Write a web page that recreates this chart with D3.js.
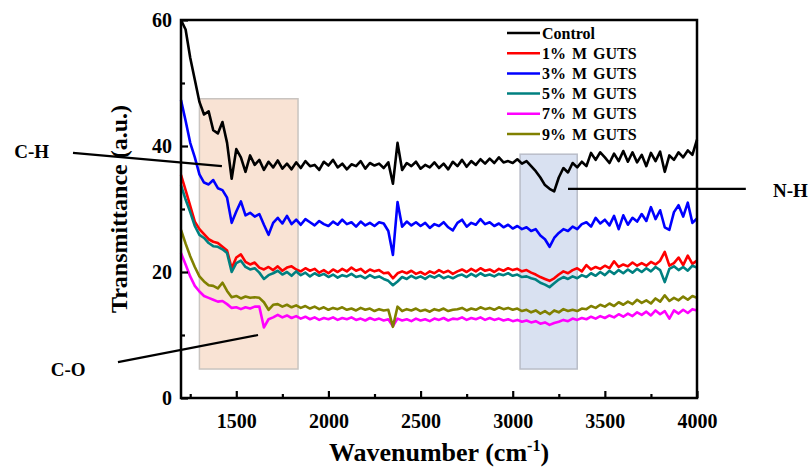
<!DOCTYPE html>
<html>
<head>
<meta charset="utf-8">
<script src="https://cdn.jsdelivr.net/npm/d3@7"></script>
<style>
  body { margin: 0; background: #fff; }
  svg text { font-family: "Liberation Serif", "Times New Roman", serif; font-weight: bold; }
</style>
</head>
<body>
<svg id="chart"></svg>
<script>
// wavenumber grid (cm-1), one reading every 25 cm-1
const wavenumbers = d3.range(1200, 4001, 25);

const control = [
  60, 58.5, 54, 50.5, 47, 45, 45.5, 42.5,
  42, 43.8, 40.5, 34.8, 39.5, 38.2, 35.9, 38.5,
  37, 37.8, 36.2, 37.5, 36.6, 37.7, 36.4, 37.2,
  36.3, 37.4, 36.5, 37.6, 36.8, 37.0, 36.2, 37.5,
  36.9, 37.8, 36.6, 37.2, 36.3, 37.1, 36.8, 37.6,
  36.4, 37.3, 36.9, 37.2, 36.5, 37.4, 34.0, 40.5,
  36.2, 37.3, 36.8, 37.5, 36.4, 37.0, 36.6, 37.4,
  36.5, 37.2, 36.3, 37.5, 36.8, 37.8, 36.7, 37.6,
  37.0, 37.9, 37.2, 38.0, 37.3, 38.2, 37.4, 37.6,
  37.3, 37.9, 37.2, 37.6, 36.8, 36.0, 35.0, 33.8,
  33.2, 32.8, 35.0, 36.5, 35.8, 37.3, 36.6, 37.5,
  36.8, 38.9, 37.8, 39.0, 38.2, 37.3, 38.8, 37.6,
  39.2, 37.5, 39.0, 37.4, 38.6, 36.8, 38.9, 37.6,
  39.1, 35.9, 38.5, 37.8, 39.0, 38.2, 39.3, 38.6,
  41.0
];

const mGuts1 = [
  35.4, 33.0, 30.5, 28.0, 26.8, 26.0, 25.2, 24.8,
  24.6, 24.0, 23.4, 20.6, 22.3, 22.8, 21.6, 21.2,
  21.5, 20.7, 20.4, 20.8, 20.3, 20.9, 20.2, 20.7,
  20.9, 20.4, 20.1, 20.6, 20.2, 20.5, 19.9, 20.3,
  19.8, 20.4, 20.0, 20.5, 20.1, 20.7, 20.2, 20.5,
  19.9, 20.4, 20.1, 20.3, 19.8, 19.9, 19.0, 19.8,
  20.1, 19.8, 20.2, 19.7, 20.0, 19.6, 20.1, 19.8,
  20.3, 19.9, 20.2, 19.7, 20.1, 20.4, 20.0, 20.5,
  20.1, 20.6, 20.2, 20.4, 20.0, 20.5, 20.2, 20.6,
  20.3, 20.5, 20.1, 20.3, 19.9, 19.6, 19.2, 18.9,
  18.6, 19.0, 19.6, 20.1, 19.8, 20.3, 20.6, 20.1,
  21.1, 20.4, 20.8, 20.5, 21.0, 20.6, 21.7, 20.8,
  21.2, 20.9, 21.5, 21.0, 21.4, 21.0, 21.6, 21.2,
  21.8, 23.2, 21.0, 21.4, 22.3, 21.1, 22.6, 21.3,
  21.8
];

const mGuts3 = [
  47.3, 44, 40.5, 38.2, 35.5, 34.2, 33.9, 34.6,
  33.3, 33.0, 31.8, 27.8, 29.6, 31.2, 29.0, 29.4,
  28.8, 29.2, 27.5, 25.9, 27.8, 28.6, 27.7, 28.9,
  27.6, 28.3, 27.5, 28.4, 27.9, 27.4, 28.1, 27.6,
  27.3, 28.0, 27.5, 28.3, 27.6, 27.9, 27.2, 28.0,
  27.4, 27.8, 27.3, 27.9, 27.7, 26.5, 22.7, 31.1,
  27.2, 28.0, 27.4, 27.9, 27.3, 27.8, 27.0, 27.6,
  27.3, 27.9, 27.1, 26.6, 27.8, 28.3, 27.2, 27.8,
  27.5, 28.4, 27.6, 27.9, 27.3, 27.7, 27.1, 27.5,
  26.9, 27.3, 26.8, 27.1, 26.5, 26.8, 25.8, 25.2,
  24.0, 25.4, 26.2, 26.8, 26.5, 27.2, 26.8, 27.6,
  27.9, 27.2, 28.6, 27.7, 28.3, 27.4, 28.9, 26.8,
  29.0, 27.5, 28.6, 28.0, 29.2, 28.1, 30.3, 28.4,
  29.8, 27.1, 26.7, 29.5, 30.6, 28.8, 31.0, 27.8,
  28.5
];

const mGuts5 = [
  33.8, 31.5, 29.5, 27.3, 25.9, 25.4, 24.6, 24.1,
  24.0, 23.6, 23.0, 20.0, 21.4, 21.8, 20.8, 20.4,
  20.6, 19.9, 18.9, 19.5, 19.8, 20.2, 19.6, 20.0,
  19.4, 20.1, 19.5, 19.9, 19.3, 19.8, 19.4, 19.7,
  19.2, 19.6, 19.1, 19.5, 19.3, 19.7, 19.2, 19.4,
  19.0, 19.5, 19.1, 19.3, 18.9, 18.6, 17.9, 18.5,
  19.2, 18.9, 19.4, 19.0, 19.3, 18.9, 19.4, 19.1,
  19.5, 19.0, 19.3, 19.0, 19.4, 19.6, 19.2, 19.7,
  19.3, 19.8, 19.4, 19.6, 19.3, 19.7, 19.5, 19.8,
  19.4, 19.6, 19.2, 19.3, 19.0, 18.8, 18.3, 18.0,
  17.6, 18.2, 18.8, 19.2, 18.9, 19.3, 19.0, 19.5,
  19.2, 19.8, 19.4, 20.0, 19.5, 20.2, 19.7, 20.3,
  19.8, 20.4, 19.9, 20.5, 20.0, 20.6, 20.1, 20.8,
  20.3, 18.4, 20.5, 20.9, 20.3, 20.8, 20.2, 21.0,
  20.7
];

const mGuts7 = [
  23.0, 21.2, 19.3, 17.8, 16.9, 16.2, 15.9, 15.6,
  15.3, 15.4, 14.9, 14.3, 14.4, 14.1, 14.4, 14.2,
  14.5, 14.5, 11.2, 12.5, 12.8, 13.2, 12.8, 13.1,
  12.7, 13.0, 12.6, 12.9, 12.5, 12.8, 12.4, 12.7,
  12.5, 12.8, 12.4, 12.7, 12.5, 12.8, 12.4, 12.6,
  12.3, 12.7, 12.4, 12.6, 12.3, 12.5, 11.4, 12.6,
  12.3, 12.5, 12.2, 12.6, 12.3, 12.5, 12.2, 12.6,
  12.4, 12.7, 12.3, 12.6, 12.5, 12.8, 12.4, 12.7,
  12.5, 12.8, 12.4, 12.7, 12.4, 12.6, 12.3, 12.5,
  12.2, 12.4, 12.1, 12.3, 12.0, 12.2, 11.8, 12.0,
  11.6, 11.9, 12.1, 12.4, 12.2, 12.6, 12.4, 12.7,
  12.5, 12.9, 12.6, 13.0, 12.7, 13.1, 12.8, 13.3,
  12.9, 13.4, 13.0, 13.6, 13.2, 13.7, 13.1, 13.9,
  13.3, 13.8, 12.6, 13.9, 13.4, 14.0, 13.5, 14.1,
  13.9
];

const mGuts9 = [
  26.7, 24.5, 22.5, 20.8, 19.3, 18.5, 17.9, 17.8,
  17.4, 18.3, 17.0, 16.0, 16.2, 15.8, 16.1, 15.9,
  16.0, 15.9, 15.2, 14.0, 14.8, 14.9, 14.5, 14.8,
  14.4, 14.7, 14.3, 14.6, 14.2, 14.5, 14.1, 14.4,
  14.0, 14.3, 14.1, 14.4, 14.0, 14.2, 13.9, 14.3,
  14.0, 14.2, 13.8, 14.1, 13.9, 14.0, 11.3, 14.5,
  13.8, 14.1, 13.9, 14.2, 13.8, 14.0, 13.7, 14.1,
  13.9, 14.2, 13.8, 14.0, 14.1, 14.3, 13.9, 14.2,
  14.0, 14.4, 14.1, 14.3, 14.0, 14.4, 14.1, 14.3,
  14.0, 14.2, 13.8, 14.0, 13.6, 13.9, 13.4, 13.8,
  13.3, 13.9, 13.6, 14.1, 13.8, 14.0, 13.8, 14.2,
  14.1, 14.6, 14.3, 14.8, 14.5, 15.0, 14.6, 15.2,
  14.8, 15.3, 14.9, 15.6, 15.1, 15.5, 15.0, 15.8,
  15.3, 16.3, 15.4, 15.9, 15.5, 16.1, 15.6, 16.2,
  15.9
];

const seriesNames = ["Control", "1% M GUTS", "3% M GUTS", "5% M GUTS", "7% M GUTS", "9% M GUTS"];
const seriesColors = ["#000000", "#ff0000", "#0000ff", "#008080", "#ff00ff", "#808000"];
const seriesValues = [control, mGuts1, mGuts3, mGuts5, mGuts7, mGuts9];

const xTicks = [1500, 2000, 2500, 3000, 3500, 4000];
const xMinorTicks = [1250, 1750, 2250, 2750, 3250, 3750];
const yTicks = [0, 20, 40, 60];
const yMinorTicks = [10, 30, 50];

// highlighted regions, in data units
const regions = [
  { x0: 1300, x1: 1835, y0: 4.6, y1: 47.5, fill: "#f9e3d4", stroke: "#c9c4c0" },
  { x0: 3040, x1: 3350, y0: 4.6, y1: 38.7, fill: "#d9e1f1", stroke: "#b9bdc8" }
];

// band labels with leader lines, in data units
const bands = [
  { label: "C-H", tx: 390, ty: 39.2, x0: 614, y0: 38.9, x1: 1422, y1: 36.8 },
  { label: "C-O", tx: 588, ty: 4.5, x0: 858, y0: 5.7, x1: 1618, y1: 10.0 },
  { label: "N-H", tx: 4507, ty: 32.9, x0: 3300, y0: 33.2, x1: 4265, y1: 33.2 }
];

const width = 810, height = 471;
const margin = { top: 20, right: 113, bottom: 73, left: 181 };

const svg = d3.select("#chart")
    .attr("width", width)
    .attr("height", height);

const x = d3.scaleLinear().domain([1200, 4000]).range([margin.left, width - margin.right]);
const y = d3.scaleLinear().domain([0, 60]).range([height - margin.bottom, margin.top]);

// shaded boxes
svg.selectAll(".region")
    .data(regions)
    .enter()
    .append("rect")
    .attr("class", "region")
    .attr("x", d => x(d.x0))
    .attr("y", d => y(d.y1))
    .attr("width", d => x(d.x1) - x(d.x0))
    .attr("height", d => y(d.y0) - y(d.y1))
    .attr("fill", d => d.fill)
    .attr("stroke", d => d.stroke)
    .attr("stroke-width", 1.5);

// spectra
const line = d3.line()
    .x((d, i) => x(wavenumbers[i]))
    .y(d => y(d));

svg.selectAll(".spectrum")
    .data(seriesValues)
    .enter()
    .append("path")
    .attr("class", "spectrum")
    .attr("d", line)
    .attr("fill", "none")
    .attr("stroke", (d, i) => seriesColors[i])
    .attr("stroke-width", 2.6)
    .attr("stroke-linejoin", "round");

// frame
svg.append("rect")
    .attr("x", x(1200))
    .attr("y", y(60))
    .attr("width", x(4000) - x(1200))
    .attr("height", y(0) - y(60))
    .attr("fill", "none")
    .attr("stroke", "#000")
    .attr("stroke-width", 2.5);

// axes with inward ticks
svg.append("g")
    .attr("transform", `translate(0,${y(0)})`)
    .call(d3.axisBottom(x).tickValues(xTicks).tickSize(-7).tickPadding(16).tickFormat(d3.format("d")));
svg.append("g")
    .attr("transform", `translate(0,${y(0)})`)
    .call(d3.axisBottom(x).tickValues(xMinorTicks).tickSize(-4).tickFormat(""));

svg.append("g")
    .attr("transform", `translate(${x(1200)},0)`)
    .call(d3.axisLeft(y).tickValues(yTicks).tickSize(-7).tickPadding(9));
svg.append("g")
    .attr("transform", `translate(${x(1200)},0)`)
    .call(d3.axisLeft(y).tickValues(yMinorTicks).tickSize(-4).tickFormat(""));

svg.selectAll(".domain").remove();
svg.selectAll(".tick line").attr("stroke", "#000").attr("stroke-width", 2.2);
svg.selectAll(".tick text")
    .attr("fill", "#000")
    .style("font-size", "20px")
    .style("font-family", "'Liberation Serif', serif")
    .style("font-weight", "bold");

// axis titles
const xTitle = svg.append("text")
    .attr("x", (x(1200) + x(4000)) / 2)
    .attr("y", 461)
    .attr("text-anchor", "middle")
    .style("font-size", "26px");
xTitle.append("tspan").text("Wavenumber (cm");
xTitle.append("tspan").attr("dy", -10).style("font-size", "16px").text("-1");
xTitle.append("tspan").attr("dy", 10).text(")");

svg.append("text")
    .attr("transform", `translate(127,${(y(0) + y(60)) / 2}) rotate(-90)`)
    .attr("text-anchor", "middle")
    .style("font-size", "24px")
    .text("Transmittance (a.u.)");

// legend
const legend = svg.append("g").attr("transform", "translate(507,33)");
const entries = legend.selectAll(".entry")
    .data(seriesNames)
    .enter()
    .append("g")
    .attr("class", "entry")
    .attr("transform", (d, i) => `translate(0,${i * 20.2})`);
entries.append("line")
    .attr("x1", 0).attr("x2", 33)
    .attr("stroke", (d, i) => seriesColors[i])
    .attr("stroke-width", 2.5);
entries.append("text")
    .attr("x", 35)
    .attr("dy", "0.35em")
    .style("font-size", "16px")
    .style("word-spacing", "2px")
    .text(d => d);

// band annotations
svg.selectAll(".band-line")
    .data(bands)
    .enter()
    .append("line")
    .attr("class", "band-line")
    .attr("x1", d => x(d.x0)).attr("y1", d => y(d.y0))
    .attr("x2", d => x(d.x1)).attr("y2", d => y(d.y1))
    .attr("stroke", "#000")
    .attr("stroke-width", 2.2);

svg.selectAll(".band-label")
    .data(bands)
    .enter()
    .append("text")
    .attr("class", "band-label")
    .attr("x", d => x(d.tx))
    .attr("y", d => y(d.ty))
    .attr("dy", "0.35em")
    .attr("text-anchor", "middle")
    .style("font-size", "19px")
    .text(d => d.label);
</script>
</body>
</html>
